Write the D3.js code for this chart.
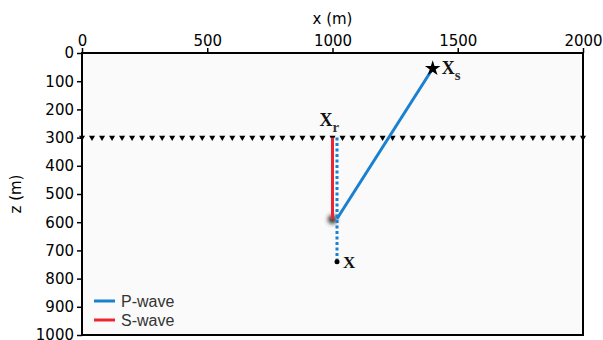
<!DOCTYPE html>
<html>
<head>
<meta charset="utf-8">
<script src="https://cdn.jsdelivr.net/npm/d3@7"></script>
<style>
  body { margin: 0; background: #fff; }
  .tick text { font-family: "DejaVu Sans", sans-serif; font-size: 15px; fill: #000; }
</style>
</head>
<body>
<svg id="chart" width="603" height="340"></svg>
<script>
// geometry of the survey, in metres
const xDomain = [0, 2000];
const zDomain = [0, 1000];
const xTicks = [0, 500, 1000, 1500, 2000];
const zTicks = [0, 100, 200, 300, 400, 500, 600, 700, 800, 900, 1000];

const receiverDepth = 300;
const receiverSpacing = 40;
const receivers = d3.range(xDomain[0], xDomain[1] + 1, receiverSpacing);

const source = { x: 1400, z: 55 };        // Xs
const virtualRec = { x: 1000, z: 300 };   // Xr
const focus = { x: 1000, z: 590 };        // blurred image point
const target = { x: 1018, z: 740 };       // X

const pWave = [[1400, 55], [1018, 588]];
const sWave = [[1000, 300], [1000, 590]];
const pDotted = [[1018, 300], [1018, 740]];

const legendItems = [
    { label: "P-wave", color: "#1a80d0" },
    { label: "S-wave", color: "#ea2630" }
];

const width = 603, height = 340;
const margin = { top: 53, right: 20, bottom: 5, left: 82 };

const svg = d3.select("#chart");

const x = d3.scaleLinear().domain(xDomain).range([margin.left, width - margin.right]);
const z = d3.scaleLinear().domain(zDomain).range([margin.top, height - margin.bottom]);

// blur used for the image point
const defs = svg.append("defs");
defs.append("filter")
    .attr("id", "blur")
    .attr("x", "-100%").attr("y", "-100%")
    .attr("width", "300%").attr("height", "300%")
    .append("feGaussianBlur")
    .attr("stdDeviation", 2);

// plot background
svg.append("rect")
    .attr("x", x(xDomain[0])).attr("y", z(zDomain[0]))
    .attr("width", x(xDomain[1]) - x(xDomain[0]))
    .attr("height", z(zDomain[1]) - z(zDomain[0]))
    .attr("fill", "#fafafa");

// receivers along the surface line
svg.append("g")
    .selectAll("path")
    .data(receivers)
    .join("path")
    .attr("transform", d => `translate(${x(d)},${z(receiverDepth)}) rotate(180)`)
    .attr("d", d3.symbol().type(d3.symbolTriangle).size(16))
    .attr("fill", "#000");

const line = d3.line().x(d => x(d[0])).y(d => z(d[1]));

// blurred image point
svg.append("circle")
    .attr("cx", x(focus.x)).attr("cy", z(focus.z))
    .attr("r", 4.5)
    .attr("fill", "#333")
    .attr("filter", "url(#blur)");

// dotted P leg down to X
svg.append("path")
    .attr("d", line(pDotted))
    .attr("fill", "none")
    .attr("stroke", legendItems[0].color)
    .attr("stroke-width", 3)
    .attr("stroke-dasharray", "3,2.5");

svg.append("path")
    .attr("d", line(sWave))
    .attr("fill", "none")
    .attr("stroke", legendItems[1].color)
    .attr("stroke-width", 3);

svg.append("path")
    .attr("d", line(pWave))
    .attr("fill", "none")
    .attr("stroke", legendItems[0].color)
    .attr("stroke-width", 3);

// source star
svg.append("path")
    .attr("transform", `translate(${x(source.x)},${z(source.z)})`)
    .attr("d", d3.symbol().type(d3.symbolStar).size(75))
    .attr("fill", "#000");

// target point
svg.append("circle")
    .attr("cx", x(target.x)).attr("cy", z(target.z))
    .attr("r", 2.5)
    .attr("fill", "#000");

// serif point labels with subscripts
function pointLabel(px, py, main, sub, size) {
    const t = svg.append("text")
        .attr("x", px).attr("y", py)
        .attr("font-family", "'Liberation Serif', 'DejaVu Serif', serif")
        .attr("font-weight", "bold")
        .attr("font-size", size)
        .attr("fill", "#111");
    t.append("tspan").text(main);
    if (sub) {
        t.append("tspan")
            .attr("dy", 6)
            .attr("font-size", size * 0.82)
            .attr("fill", "#333")
            .text(sub);
    }
}
pointLabel(x(source.x) + 9, z(source.z) + 5, "X", "s", 18);
pointLabel(x(virtualRec.x) - 13, z(virtualRec.z) - 12, "X", "r", 18);
pointLabel(x(target.x) + 6, z(target.z) + 6, "X", null, 17);

// axes
const xAxis = svg.append("g")
    .attr("transform", `translate(0,${margin.top})`)
    .call(d3.axisTop(x).tickValues(xTicks).tickSize(5).tickPadding(2).tickFormat(d3.format("d")));
const zAxis = svg.append("g")
    .attr("transform", `translate(${margin.left},0)`)
    .call(d3.axisLeft(z).tickValues(zTicks).tickSize(5).tickPadding(3).tickFormat(d3.format("d")));
[xAxis, zAxis].forEach(a => {
    a.select(".domain").remove();
    a.selectAll(".tick line").attr("stroke", "#000").attr("stroke-width", 1.5);
});

// frame
svg.append("rect")
    .attr("x", x(xDomain[0])).attr("y", z(zDomain[0]))
    .attr("width", x(xDomain[1]) - x(xDomain[0]))
    .attr("height", z(zDomain[1]) - z(zDomain[0]))
    .attr("fill", "none")
    .attr("stroke", "#000")
    .attr("stroke-width", 2);

// axis titles
svg.append("text")
    .attr("x", x(1000)).attr("y", 24)
    .attr("text-anchor", "middle")
    .attr("font-family", "DejaVu Sans, sans-serif")
    .attr("font-size", 15)
    .text("x (m)");
svg.append("text")
    .attr("transform", `translate(21,${z(500)}) rotate(-90)`)
    .attr("text-anchor", "middle")
    .attr("font-family", "DejaVu Sans, sans-serif")
    .attr("font-size", 15)
    .text("z (m)");

// legend
const legend = svg.append("g").attr("transform", "translate(94,301)");
const item = legend.selectAll("g")
    .data(legendItems)
    .join("g")
    .attr("transform", (d, i) => `translate(0,${i * 19})`);
item.append("line")
    .attr("x1", 0).attr("x2", 21)
    .attr("stroke", d => d.color)
    .attr("stroke-width", 3);
item.append("text")
    .attr("x", 27).attr("y", 5.5)
    .attr("font-family", "'Liberation Sans', Arial, sans-serif")
    .attr("font-size", 16)
    .attr("fill", "#333")
    .text(d => d.label);
</script>
</body>
</html>
